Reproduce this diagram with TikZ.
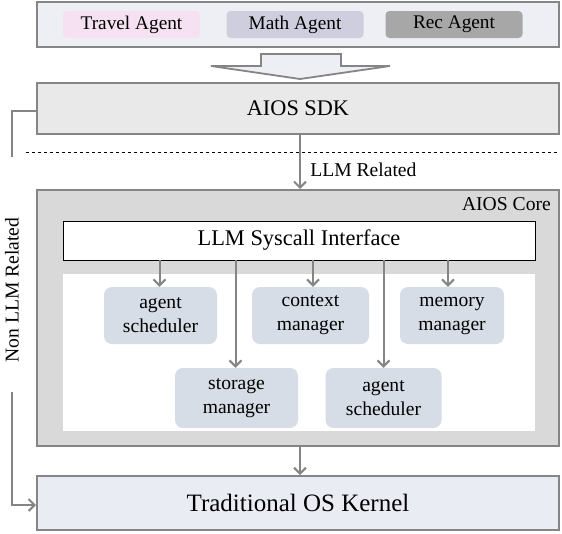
\documentclass[tikz,border=0pt]{standalone}
\usepackage{fontspec}
\setmainfont{Liberation Serif}
\usetikzlibrary{positioning,arrows.meta}
\definecolor{edgegrey}{HTML}{858585}
\definecolor{appfill}{HTML}{EDEFF4}
\definecolor{travelfill}{HTML}{F5E1F1}
\definecolor{mathfill}{HTML}{CFCEDF}
\definecolor{recfill}{HTML}{A7A7A7}
\definecolor{sdkfill}{HTML}{E9E9E9}
\definecolor{corefill}{HTML}{D9D9D9}
\definecolor{modfill}{HTML}{D7DDE6}
\definecolor{kernelfill}{HTML}{E9ECF2}
\tikzset{
    layer/.style={draw=edgegrey, line width=2pt, minimum width=522pt, inner sep=0pt},
    agent/.style={rounded corners=4pt, minimum width=137pt, minimum height=27pt,
      inner sep=0pt, font=\fontsize{19.3}{22}\selectfont},
    module/.style={rounded corners=8pt, fill=modfill, align=center, inner sep=0pt,
      font=\fontsize{19.6}{24}\selectfont},
    flow/.style={draw=edgegrey, line width=2pt, -{Straight Barb[length=6pt,width=12pt]}},
    link/.style={draw=edgegrey, line width=2pt},
}
\begin{document}
\begin{tikzpicture}[x=1pt, y=-1pt]
    \useasboundingbox (0,0) rectangle (562,533);
    % applications
    \node[layer, fill=appfill, minimum height=45pt] (apps) at (298,24.5) {};
    \node[agent, fill=travelfill] (travel) at (131.5,24.5) {Travel Agent};
    \node[agent, fill=mathfill] (math) at (295,24.5) {Math Agent};
    \node[agent, fill=recfill] (rec) at (454,24.5) {Rec Agent};
    \draw[draw=edgegrey, line width=1.8pt, fill=appfill, line join=miter]
      (261,54) -- (341,54) -- (341,66) -- (390,66) -- (300,79) -- (211,66) -- (261,66) -- cycle;
    % sdk
    \node[layer, fill=sdkfill, minimum height=51pt, font=\fontsize{22.3}{26}\selectfont]
      (sdk) at (298,108.5) {AIOS SDK};
    \draw[dashed, line width=0.6pt] (26,152) -- (559,152);
    % core
    \node[layer, fill=corefill, minimum height=256pt] (core) at (298,318) {};
    \node[anchor=north east, inner sep=0pt, font=\fontsize{19.6}{22}\selectfont]
      (corelabel) at (551,197) {AIOS Core};
    \fill[white] (63,274) rectangle (535,431);
    \node[draw=black, line width=0.8pt, fill=white, minimum width=472pt, minimum height=39pt,
      inner sep=0pt, font=\fontsize{22.4}{26}\selectfont] (syscall) at (299,240.5) {LLM Syscall Interface};
    \node[module, minimum width=113pt, minimum height=57pt] (sched) at (160.5,315.5) {agent\\scheduler};
    \node[module, minimum width=117pt, minimum height=57pt] (context) at (310.5,315.5) {context\\manager};
    \node[module, minimum width=104pt, minimum height=57pt] (memory) at (452,315.5) {memory\\manager};
    \node[module, minimum width=123pt, minimum height=60pt] (storage) at (236.5,398) {storage\\manager};
    \node[module, minimum width=116pt, minimum height=60pt] (sched2) at (383.5,398) {agent\\scheduler};
    % kernel
    \node[layer, fill=kernelfill, minimum height=54pt, font=\fontsize{25}{28}\selectfont]
      (kernel) at (298,503) {Traditional OS Kernel};
    % connectors
    \draw[flow] (sdk.south -| 300,0) -- node[right=6pt, pos=0.65, font=\fontsize{19.6}{22}\selectfont] (llmrel) {LLM Related} (core.north -| 300,0);
    \draw[flow] (syscall.south -| 159.5,0) -- (sched.north -| 159.5,0);
    \draw[flow] (syscall.south -| 235.5,0) -- (storage.north -| 235.5,0);
    \draw[flow] (syscall.south -| 313,0) -- (context.north -| 313,0);
    \draw[flow] (syscall.south -| 383.5,0) -- (sched2.north -| 383.5,0);
    \draw[flow] (syscall.south -| 448,0) -- (memory.north -| 448,0);
    \draw[flow] (core.south -| 300,0) -- (kernel.north -| 300,0);
    % non llm path
    \coordinate (gaptop) at (12,157);
    \coordinate (gapbot) at (12,392);
    \draw[link] (sdk.west |- 0,111) -| (gaptop);
    \draw[flow] (gapbot) |- (kernel.west |- 0,505);
    \node[rotate=90, inner sep=0pt, font=\fontsize{19.6}{22}\selectfont] (nonllm) at (12,290) {Non LLM Related};
\end{tikzpicture}
\end{document}
